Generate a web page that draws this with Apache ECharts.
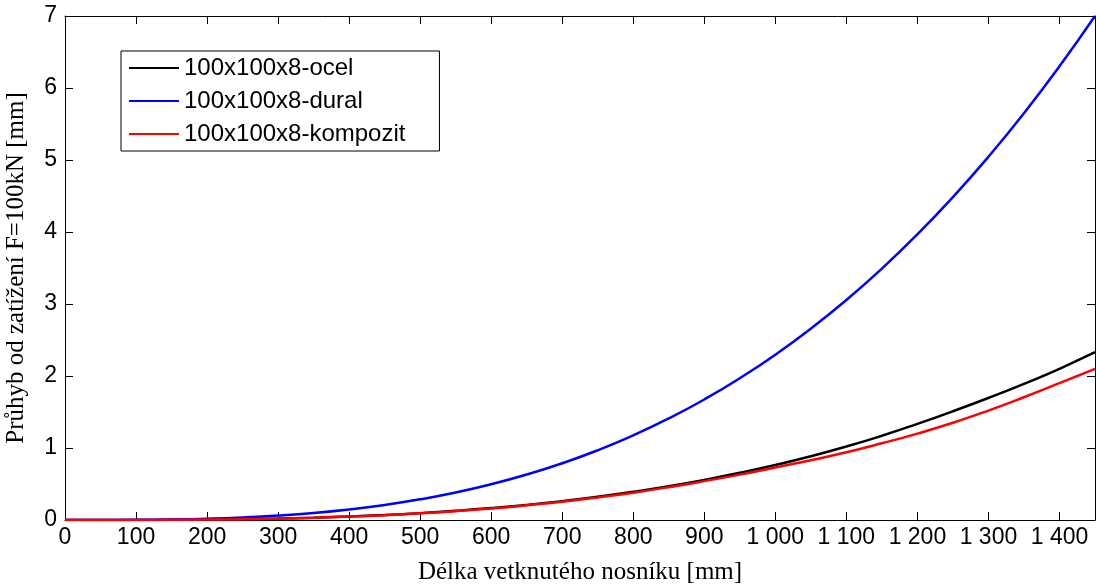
<!DOCTYPE html>
<html>
<head>
<meta charset="utf-8">
<script src="https://cdn.jsdelivr.net/npm/echarts@6/dist/echarts.min.js"></script>
<style>html,body{margin:0;padding:0;background:#fff}#c{width:1096px;height:588px}</style>
</head>
<body>
<div id="c"></div>
<script>
const lengths = [0,50,100,150,200,250,300,350,400,450,500,550,600,650,700,750,800,850,900,950,1000,1050,1100,1150,1200,1250,1300,1350,1400,1450];
const ocel = [0,0.0001,0.0008,0.0026,0.0061,0.0119,0.0206,0.0328,0.0489,0.0696,0.0955,0.1272,0.1651,0.2099,0.2621,0.3224,0.3913,0.4694,0.5572,0.6553,0.7643,0.885,1.02,1.17,1.335,1.51,1.695,1.89,2.10,2.33];
const dural = [0,0.0003,0.0023,0.0077,0.0184,0.0359,0.062,0.098,0.147,0.209,0.287,0.382,0.496,0.631,0.788,0.969,1.176,1.410,1.674,1.969,2.296,2.658,3.056,3.492,3.968,4.485,5.045,5.649,6.301,7.0];
const kompozit = [0,0.0001,0.0008,0.0025,0.0059,0.0115,0.020,0.0318,0.0474,0.0675,0.0926,0.123,0.160,0.204,0.254,0.313,0.380,0.456,0.54,0.63,0.73,0.83,0.94,1.065,1.20,1.35,1.52,1.705,1.90,2.10];
const seriesNames = ['100x100x8-ocel','100x100x8-dural','100x100x8-kompozit'];
const seriesColors = ['#000000','#0000ff','#ff0000'];
const xTitle = 'Délka vetknutého nosníku [mm]';
const yTitle = 'Průhyb od zatížení F=100kN [mm]';

const pair = arr => lengths.map((x,i)=>[x,arr[i]]);
const fmtX = v => v >= 1450 ? '' : String(v).replace(/\B(?=(\d{3})+(?!\d))/g,' ');
const sans = 'Liberation Sans, Arial, sans-serif';
const serif = 'Liberation Serif, Times New Roman, serif';
const axisLine = {show:true, onZero:false, lineStyle:{color:'#000', width:1}};
const tickIn = {show:true, inside:true, length:8, lineStyle:{color:'#000'}};

const chart = echarts.init(document.getElementById('c'));
chart.setOption({
  animation:false,
  backgroundColor:'#fff',
  grid:{left:65, right:1, top:16, bottom:68, containLabel:false, outerBoundsMode:'none'},
  legend:{
    orient:'vertical', left:121, top:51,
    padding:[5,34,5,8], itemGap:9,
    borderColor:'#000', borderWidth:1, backgroundColor:'#fff',
    icon:'rect', itemWidth:50, itemHeight:2,
    textStyle:{fontFamily:sans, fontSize:24, color:'#000', lineHeight:24},
    data:seriesNames
  },
  xAxis:[
    {type:'value', min:0, max:1450, interval:100, position:'bottom',
     axisLine, axisTick:tickIn, splitLine:{show:false},
     axisLabel:{formatter:fmtX, fontFamily:sans, fontSize:23, color:'#000', margin:6, showMaxLabel:false},
     name:xTitle, nameLocation:'middle', nameGap:40,
     nameTextStyle:{fontFamily:serif, fontSize:25, color:'#000'}},
    {type:'value', min:0, max:1450, interval:100, position:'top',
     axisLine, axisTick:tickIn, splitLine:{show:false}, axisLabel:{show:false}}
  ],
  yAxis:[
    {type:'value', min:0, max:7, interval:1, position:'left',
     axisLine, axisTick:tickIn, splitLine:{show:false},
     axisLabel:{fontFamily:sans, fontSize:23, color:'#000', margin:8},
     name:yTitle, nameLocation:'middle', nameGap:36,
     nameTextStyle:{fontFamily:serif, fontSize:25, color:'#000'}},
    {type:'value', min:0, max:7, interval:1, position:'right',
     axisLine, axisTick:tickIn, splitLine:{show:false}, axisLabel:{show:false}}
  ],
  series:[
    {name:seriesNames[0], type:'line', data:pair(ocel), smooth:true, showSymbol:false, lineStyle:{color:seriesColors[0], width:2.5}, itemStyle:{color:seriesColors[0]}, z:2},
    {name:seriesNames[1], type:'line', data:pair(dural), smooth:true, showSymbol:false, lineStyle:{color:seriesColors[1], width:2.5}, itemStyle:{color:seriesColors[1]}, z:3},
    {name:seriesNames[2], type:'line', data:pair(kompozit), smooth:true, showSymbol:false, lineStyle:{color:seriesColors[2], width:2.5}, itemStyle:{color:seriesColors[2]}, z:4}
  ]
});
</script>
</body>
</html>
